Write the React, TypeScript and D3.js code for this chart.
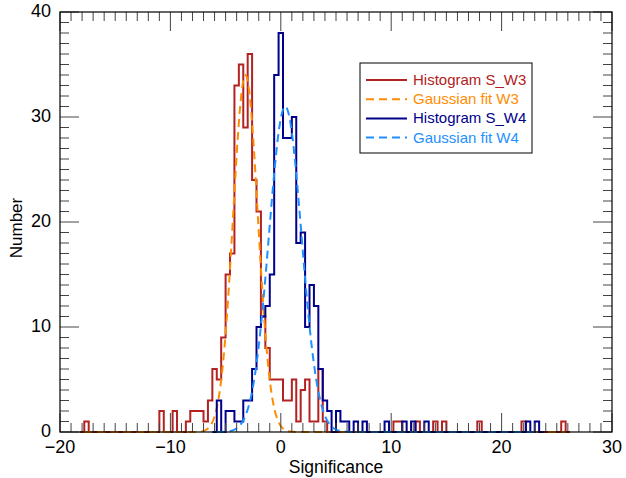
import { useEffect, useRef } from 'react'
import * as d3 from 'd3'

// histogram bins are 0.4 wide, listed by bin centre (only non-zero bins)
const BIN = 0.4

const w3Centers = [
  -17.6, -10.8, -9.6, -8.4, -8.0, -7.6, -7.2, -6.8, -6.4, -6.0, -5.6, -5.2, -4.8, -4.4,
  -4.0, -3.6, -3.2, -2.8, -2.4, -2.0, -1.6, -1.2, -0.8, -0.4, 0.0, 0.4, 0.8, 1.2, 1.6,
  2.0, 2.4, 2.8, 3.2, 3.6, 4.0, 10.4, 10.8, 12.4, 14.0, 14.8, 18.0, 22.0, 25.6,
]
const w3Counts = [
  1, 2, 2, 1, 2, 2, 2, 1, 3, 6, 5, 9, 15, 17,
  33, 35, 29, 36, 24, 21, 11, 8, 5, 5, 5, 3, 3, 5, 1,
  4, 5, 1, 1, 6, 1, 1, 1, 1, 1, 1, 1, 1, 1,
]

const w4Centers = [
  -5.6, -4.8, -4.4, -4.0, -3.6, -3.2, -2.8, -2.4, -2.0, -1.6, -1.2, -0.8, -0.4, 0.0,
  0.4, 0.8, 1.2, 1.6, 2.0, 2.4, 2.8, 3.2, 3.6, 4.0, 4.4, 5.2, 5.6, 6.0, 6.8, 7.6,
  9.6, 11.2, 12.0, 13.2, 22.4, 23.2,
]
const w4Counts = [
  3, 2, 2, 1, 1, 3, 3, 6, 10, 11, 12, 15, 34, 38,
  28, 28, 30, 18, 19, 10, 14, 12, 6, 3, 2, 2, 1, 1, 1, 1,
  1, 1, 1, 1, 1, 1,
]

// histogram extents (outer bin edges)
const w3Range = [-18.2, 26.2]
const w4Range = [-6.2, 23.8]

// gaussian fits: amplitude, centre, sigma, plotted range
const fitW3 = { amp: 34, mu: -3.2, sigma: 1.12, range: [-17.8, 25.8] }
const fitW4 = { amp: 31, mu: 0.4, sigma: 1.47, range: [-5.8, 23.4] }

const xTicks = [-20, -10, 0, 10, 20, 30]
const yTicks = [0, 10, 20, 30, 40]

const legendItems = [
  { label: 'Histogram S_W3', color: '#b22222', dash: null },
  { label: 'Gaussian fit W3', color: '#ff8c00', dash: '8,5' },
  { label: 'Histogram S_W4', color: '#00008b', dash: null },
  { label: 'Gaussian fit W4', color: '#1e90ff', dash: '8,5' },
]

function stepPoints(centers, counts, range) {
  const n = Math.round((range[1] - range[0]) / BIN)
  const dense = new Array(n).fill(0)
  centers.forEach((c, i) => {
    const k = Math.round((c - BIN / 2 - range[0]) / BIN)
    if (k >= 0 && k < n) dense[k] = counts[i]
  })
  const pts = [[range[0], 0]]
  dense.forEach((v, k) => {
    const e0 = range[0] + k * BIN
    pts.push([e0, v], [e0 + BIN, v])
  })
  pts.push([range[1], 0])
  return pts
}

function gaussPoints(fit) {
  const pts = []
  for (let x = fit.range[0]; x <= fit.range[1] + 1e-9; x += 0.05) {
    pts.push([x, fit.amp * Math.exp(-((x - fit.mu) ** 2) / (2 * fit.sigma ** 2))])
  }
  return pts
}

export default function App() {
  const svgRef = useRef()

  useEffect(() => {
    const W = 626
    const H = 478
    const margin = { top: 12, right: 14, bottom: 46, left: 60 }
    const width = W - margin.left - margin.right
    const height = H - margin.top - margin.bottom
    const font = '"Liberation Sans", Arial, Helvetica, sans-serif'

    const svg = d3.select(svgRef.current)
    svg.selectAll('*').remove()
    svg.attr('width', W).attr('height', H).attr('viewBox', `0 0 ${W} ${H}`)

    svg.append('rect').attr('width', W).attr('height', H).attr('fill', '#fff')

    const g = svg.append('g').attr('transform', `translate(${margin.left},${margin.top})`)

    const x = d3.scaleLinear().domain([-20, 30]).range([0, width])
    const y = d3.scaleLinear().domain([0, 40]).range([height, 0])

    const line = d3.line().x((d) => x(d[0])).y((d) => y(d[1]))

    const plot = g.append('g')
    plot.append('path')
      .attr('d', line(stepPoints(w3Centers, w3Counts, w3Range)))
      .attr('fill', 'none').attr('stroke', '#b22222').attr('stroke-width', 2)
    plot.append('path')
      .attr('d', line(gaussPoints(fitW3)))
      .attr('fill', 'none').attr('stroke', '#ff8c00').attr('stroke-width', 2)
      .attr('stroke-dasharray', '8,5')
    plot.append('path')
      .attr('d', line(stepPoints(w4Centers, w4Counts, w4Range)))
      .attr('fill', 'none').attr('stroke', '#00008b').attr('stroke-width', 2)
    plot.append('path')
      .attr('d', line(gaussPoints(fitW4)))
      .attr('fill', 'none').attr('stroke', '#1e90ff').attr('stroke-width', 2)
      .attr('stroke-dasharray', '8,5')

    // ticks pointing inward on all four sides
    const xMinor = d3.range(-20, 31, 1)
    const yMinor = d3.range(0, 41, 1)
    const ticks = g.append('g').attr('stroke', '#444').attr('stroke-width', 1)
    xMinor.forEach((v) => {
      const len = v % 10 === 0 ? 19 : 9
      ticks.append('line').attr('x1', x(v)).attr('x2', x(v)).attr('y1', height).attr('y2', height - len)
      ticks.append('line').attr('x1', x(v)).attr('x2', x(v)).attr('y1', 0).attr('y2', len)
    })
    yMinor.forEach((v) => {
      const len = v % 10 === 0 ? 19 : 9
      ticks.append('line').attr('y1', y(v)).attr('y2', y(v)).attr('x1', 0).attr('x2', len)
      ticks.append('line').attr('y1', y(v)).attr('y2', y(v)).attr('x1', width).attr('x2', width - len)
    })

    g.append('rect')
      .attr('width', width).attr('height', height)
      .attr('fill', 'none').attr('stroke', '#000').attr('stroke-width', 1.2)

    // tick labels
    g.selectAll('text.xt').data(xTicks).join('text')
      .attr('class', 'xt')
      .attr('x', (d) => x(d)).attr('y', height + 21)
      .attr('text-anchor', 'middle').attr('font-family', font).attr('font-size', 18)
      .text((d) => (d < 0 ? `\u2212${Math.abs(d)}` : `${d}`))
    g.selectAll('text.yt').data(yTicks).join('text')
      .attr('class', 'yt')
      .attr('x', -9).attr('y', (d) => y(d) + 5)
      .attr('text-anchor', 'end').attr('font-family', font).attr('font-size', 18)
      .text((d) => d)

    g.append('text')
      .attr('x', width / 2).attr('y', height + 41)
      .attr('text-anchor', 'middle').attr('font-family', font).attr('font-size', 17.5)
      .text('Significance')
    g.append('text')
      .attr('transform', `translate(${-38},${height / 2 + 6}) rotate(-90)`)
      .attr('text-anchor', 'middle').attr('font-family', font).attr('font-size', 17)
      .text('Number')

    // legend
    const lg = svg.append('g').attr('transform', 'translate(360,63)')
    lg.append('rect').attr('width', 172).attr('height', 90)
      .attr('fill', '#fff').attr('stroke', '#000').attr('stroke-width', 1)
    legendItems.forEach((it, i) => {
      const yy = 17 + i * 19.2
      lg.append('line')
        .attr('x1', 6).attr('x2', 47).attr('y1', yy).attr('y2', yy)
        .attr('stroke', it.color).attr('stroke-width', 2)
        .attr('stroke-dasharray', it.dash)
      lg.append('text')
        .attr('x', 53).attr('y', yy + 5)
        .attr('font-family', font).attr('font-size', 15).attr('fill', it.color)
        .text(it.label)
    })
  }, [])

  return <svg ref={svgRef} style={{ position: 'absolute', left: 0, top: 0, display: 'block' }} />
}
